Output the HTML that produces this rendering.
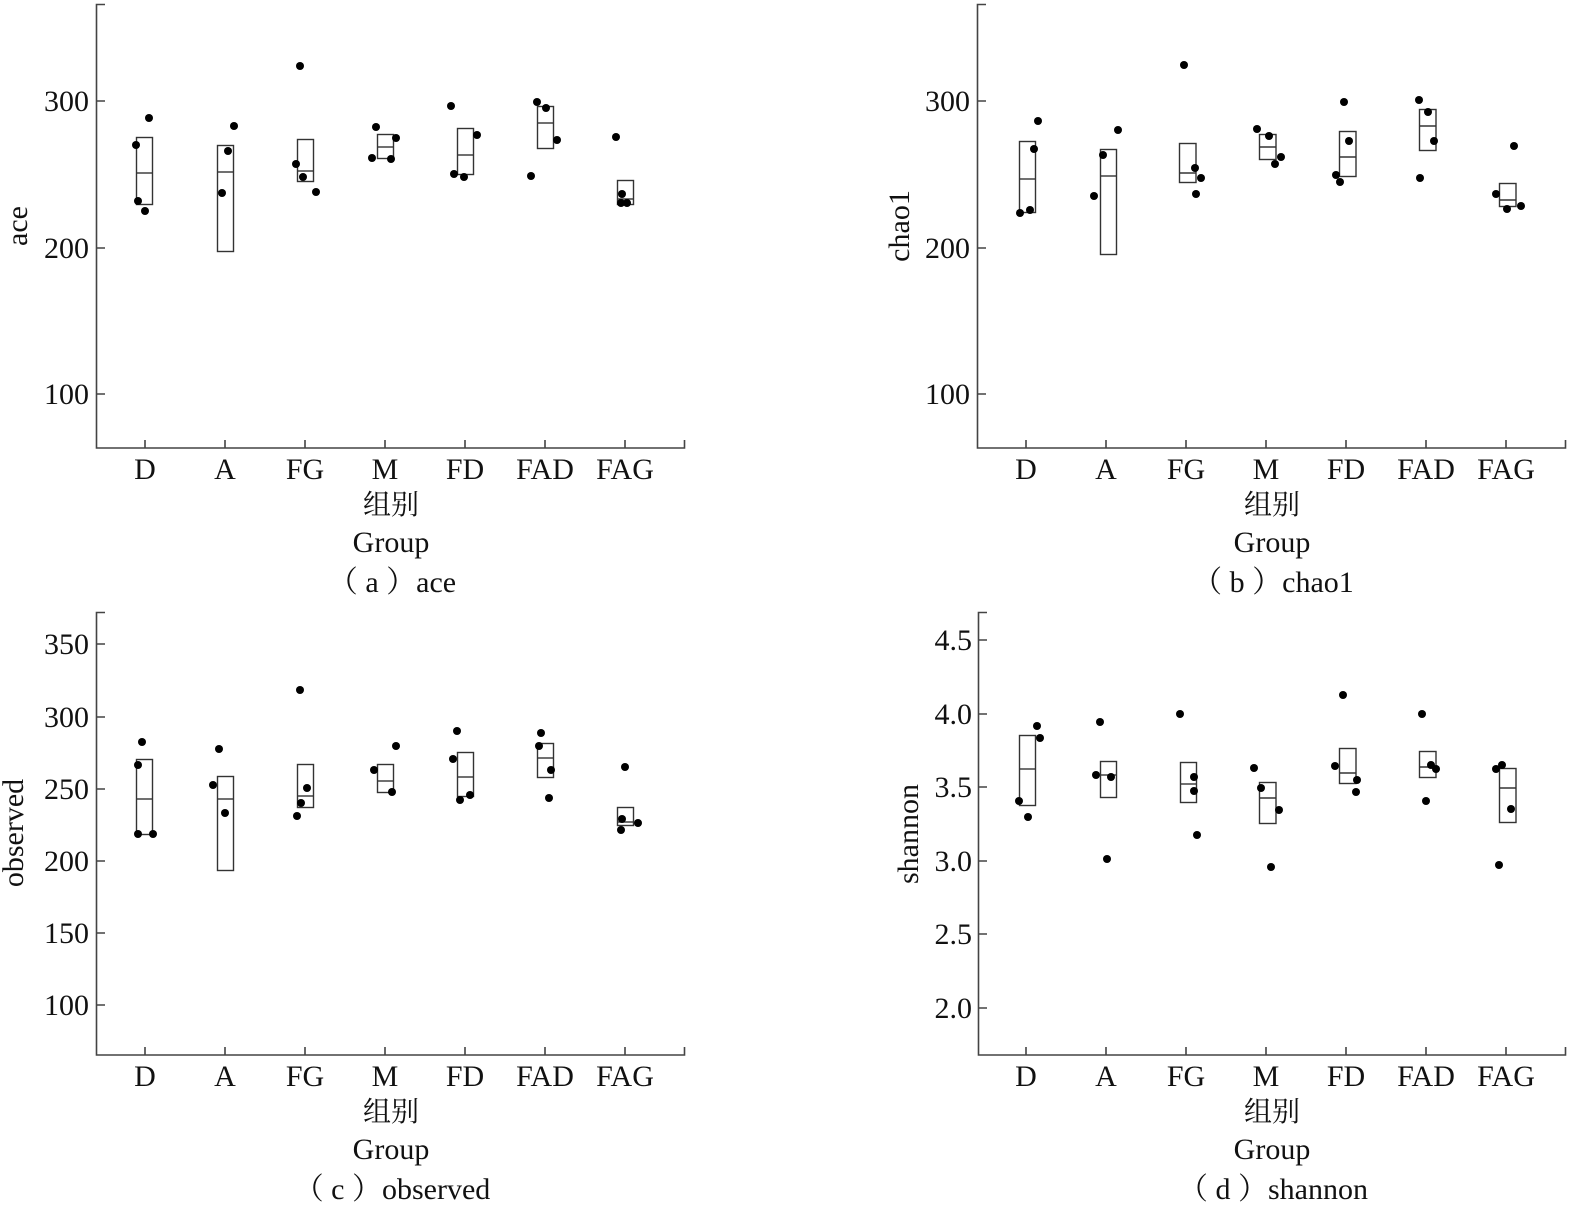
<!DOCTYPE html>
<html><head><meta charset="utf-8"><style>
html,body{margin:0;padding:0;background:#fff;}
svg{display:block;}
text{font-family:"Liberation Serif","Noto Serif CJK SC",serif;fill:#111;}
.t{font-size:30px;text-anchor:end;}
.c{font-size:30px;text-anchor:middle;}
.m{font-size:30px;text-anchor:middle;}
.k{font-size:28px;text-anchor:middle;}
.yl{font-size:30px;text-anchor:middle;}
.ax{stroke:#444;stroke-width:1.6;fill:none;}
.bx{stroke:#333;stroke-width:1.4;fill:none;}
</style></head><body>
<svg width="1571" height="1205" viewBox="0 0 1571 1205" xmlns="http://www.w3.org/2000/svg">
<!-- Panel a -->
<g>
<path class="ax" d="M105,4.5 H96.5 V448 H684.5 V440"/>
<path class="ax" d="M96.5,101 H105 M96.5,248 H105 M96.5,394 H105"/>
<path class="ax" d="M145,448 V440 M225,448 V440 M305,448 V440 M385,448 V440 M465,448 V440 M545,448 V440 M625,448 V440"/>
<text class="t" x="89" y="111">300</text>
<text class="t" x="89" y="258">200</text>
<text class="t" x="89" y="404">100</text>
<text class="yl" transform="translate(27,226) rotate(-90)">ace</text>
<text class="c" x="145" y="479">D</text><text class="c" x="225" y="479">A</text><text class="c" x="305" y="479">FG</text><text class="c" x="385" y="479">M</text><text class="c" x="465" y="479">FD</text><text class="c" x="545" y="479">FAD</text><text class="c" x="625" y="479">FAG</text>
<text class="k" x="391" y="514">组别</text>
<text class="m" x="391" y="552">Group</text>
<text class="m" x="392" y="592" xml:space="preserve">（ a ）ace</text>
<g class="bx">
<rect x="136.5" y="137.5" width="16" height="67"/><path d="M136.5,173 H152.5"/>
<rect x="217.5" y="145.5" width="16" height="106"/><path d="M217.5,172 H233.5"/>
<rect x="297.5" y="139.5" width="16" height="42"/><path d="M297.5,171 H313.5"/>
<rect x="377.5" y="134.5" width="16" height="24"/><path d="M377.5,147 H393.5"/>
<rect x="457.5" y="128.5" width="16" height="46"/><path d="M457.5,155 H473.5"/>
<rect x="537.5" y="106.5" width="16" height="42"/><path d="M537.5,123 H553.5"/>
<rect x="617.5" y="180.5" width="16" height="24"/><path d="M617.5,199 H633.5"/>
</g>
<g fill="#000">
<circle cx="136" cy="145" r="4"/><circle cx="149" cy="118" r="4"/><circle cx="138" cy="201" r="4"/><circle cx="145" cy="211" r="4"/>
<circle cx="234" cy="126" r="4"/><circle cx="228" cy="151" r="4"/><circle cx="222" cy="193" r="4"/>
<circle cx="300" cy="66" r="4"/><circle cx="296" cy="164" r="4"/><circle cx="303" cy="177" r="4"/><circle cx="316" cy="192" r="4"/>
<circle cx="376" cy="127" r="4"/><circle cx="396" cy="138" r="4"/><circle cx="372" cy="158" r="4"/><circle cx="391" cy="159" r="4"/>
<circle cx="451" cy="106" r="4"/><circle cx="477" cy="135" r="4"/><circle cx="454" cy="174" r="4"/><circle cx="464" cy="177" r="4"/>
<circle cx="537" cy="102" r="4"/><circle cx="546" cy="108" r="4"/><circle cx="557" cy="140" r="4"/><circle cx="531" cy="176" r="4"/>
<circle cx="616" cy="137" r="4"/><circle cx="622" cy="194" r="4"/><circle cx="621" cy="203" r="4"/><circle cx="627" cy="203" r="4"/>
</g>
</g>

<!-- Panel b -->
<g>
<path class="ax" d="M986,4.5 H977.5 V448 H1565.5 V440"/>
<path class="ax" d="M977.5,101 H986 M977.5,248 H986 M977.5,394 H986"/>
<path class="ax" d="M1026,448 V440 M1106,448 V440 M1186,448 V440 M1266,448 V440 M1346,448 V440 M1426,448 V440 M1506,448 V440"/>
<text class="t" x="970" y="111">300</text>
<text class="t" x="970" y="258">200</text>
<text class="t" x="970" y="404">100</text>
<text class="yl" transform="translate(909,226) rotate(-90)">chao1</text>
<text class="c" x="1026" y="479">D</text><text class="c" x="1106" y="479">A</text><text class="c" x="1186" y="479">FG</text><text class="c" x="1266" y="479">M</text><text class="c" x="1346" y="479">FD</text><text class="c" x="1426" y="479">FAD</text><text class="c" x="1506" y="479">FAG</text>
<text class="k" x="1272" y="514">组别</text>
<text class="m" x="1272" y="552">Group</text>
<text class="m" x="1273" y="592" xml:space="preserve">（ b ）chao1</text>
<g class="bx">
<rect x="1019.5" y="141.5" width="16" height="71"/><path d="M1019.5,179 H1035.5"/>
<rect x="1100.5" y="149.5" width="16" height="105"/><path d="M1100.5,176 H1116.5"/>
<rect x="1179.5" y="143.5" width="16.5" height="39"/><path d="M1179.5,173 H1196"/>
<rect x="1259.5" y="134.5" width="16.5" height="25"/><path d="M1259.5,147 H1276"/>
<rect x="1339.5" y="131.5" width="16.5" height="45"/><path d="M1339.5,157 H1356"/>
<rect x="1419.5" y="109.5" width="16.5" height="41"/><path d="M1419.5,126 H1436"/>
<rect x="1499.5" y="183.5" width="16.5" height="23"/><path d="M1499.5,200 H1516"/>
</g>
<g fill="#000">
<circle cx="1038" cy="121" r="4"/><circle cx="1034" cy="149" r="4"/><circle cx="1020" cy="213" r="4"/><circle cx="1030" cy="210" r="4"/>
<circle cx="1118" cy="130" r="4"/><circle cx="1103" cy="155" r="4"/><circle cx="1094" cy="196" r="4"/>
<circle cx="1184" cy="65" r="4"/><circle cx="1195" cy="168" r="4"/><circle cx="1201" cy="178" r="4"/><circle cx="1196" cy="194" r="4"/>
<circle cx="1257" cy="129" r="4"/><circle cx="1269" cy="136" r="4"/><circle cx="1281" cy="157" r="4"/><circle cx="1275" cy="164" r="4"/>
<circle cx="1344" cy="102" r="4"/><circle cx="1349" cy="141" r="4"/><circle cx="1336" cy="175" r="4"/><circle cx="1340" cy="182" r="4"/>
<circle cx="1419" cy="100" r="4"/><circle cx="1428" cy="112" r="4"/><circle cx="1434" cy="141" r="4"/><circle cx="1420" cy="178" r="4"/>
<circle cx="1514" cy="146" r="4"/><circle cx="1496" cy="194" r="4"/><circle cx="1507" cy="209" r="4"/><circle cx="1521" cy="206" r="4"/>
</g>
</g>

<!-- Panel c -->
<g>
<path class="ax" d="M105,612.5 H96.5 V1055 H684.5 V1047"/>
<path class="ax" d="M96.5,644 H105 M96.5,717 H105 M96.5,789 H105 M96.5,861 H105 M96.5,933 H105 M96.5,1005 H105"/>
<path class="ax" d="M145,1055 V1047 M225,1055 V1047 M305,1055 V1047 M385,1055 V1047 M465,1055 V1047 M545,1055 V1047 M625,1055 V1047"/>
<text class="t" x="89" y="654">350</text>
<text class="t" x="89" y="727">300</text>
<text class="t" x="89" y="799">250</text>
<text class="t" x="89" y="871">200</text>
<text class="t" x="89" y="943">150</text>
<text class="t" x="89" y="1015">100</text>
<text class="yl" transform="translate(23,833) rotate(-90)">observed</text>
<text class="c" x="145" y="1086">D</text><text class="c" x="225" y="1086">A</text><text class="c" x="305" y="1086">FG</text><text class="c" x="385" y="1086">M</text><text class="c" x="465" y="1086">FD</text><text class="c" x="545" y="1086">FAD</text><text class="c" x="625" y="1086">FAG</text>
<text class="k" x="391" y="1121">组别</text>
<text class="m" x="391" y="1159">Group</text>
<text class="m" x="392" y="1199" xml:space="preserve">（ c ）observed</text>
<g class="bx">
<rect x="136.5" y="759.5" width="16" height="75"/><path d="M136.5,799 H152.5"/>
<rect x="217.5" y="776.5" width="16" height="94"/><path d="M217.5,799 H233.5"/>
<rect x="297.5" y="764.5" width="16" height="43"/><path d="M297.5,796 H313.5"/>
<rect x="377.5" y="764.5" width="16" height="28"/><path d="M377.5,781 H393.5"/>
<rect x="457.5" y="752.5" width="16" height="44"/><path d="M457.5,777 H473.5"/>
<rect x="537.5" y="743.5" width="16" height="34"/><path d="M537.5,758 H553.5"/>
<rect x="617.5" y="807.5" width="16" height="18"/><path d="M617.5,822 H633.5"/>
</g>
<g fill="#000">
<circle cx="142" cy="742" r="4"/><circle cx="138" cy="765" r="4"/><circle cx="138" cy="834" r="4"/><circle cx="153" cy="834" r="4"/>
<circle cx="219" cy="749" r="4"/><circle cx="213" cy="785" r="4"/><circle cx="225" cy="813" r="4"/>
<circle cx="300" cy="690" r="4"/><circle cx="307" cy="788" r="4"/><circle cx="301" cy="803" r="4"/><circle cx="297" cy="816" r="4"/>
<circle cx="396" cy="746" r="4"/><circle cx="374" cy="770" r="4"/><circle cx="392" cy="792" r="4"/>
<circle cx="457" cy="731" r="4"/><circle cx="453" cy="759" r="4"/><circle cx="460" cy="800" r="4"/><circle cx="470" cy="795" r="4"/>
<circle cx="541" cy="733" r="4"/><circle cx="539" cy="746" r="4"/><circle cx="551" cy="770" r="4"/><circle cx="549" cy="798" r="4"/>
<circle cx="625" cy="767" r="4"/><circle cx="622" cy="819" r="4"/><circle cx="638" cy="823" r="4"/><circle cx="621" cy="830" r="4"/>
</g>
</g>

<!-- Panel d -->
<g>
<path class="ax" d="M987,612.5 H978.5 V1055 H1565.5 V1047"/>
<path class="ax" d="M978.5,640 H987 M978.5,714 H987 M978.5,787 H987 M978.5,861 H987 M978.5,934 H987 M978.5,1008 H987"/>
<path class="ax" d="M1026,1055 V1047 M1106,1055 V1047 M1186,1055 V1047 M1266,1055 V1047 M1346,1055 V1047 M1426,1055 V1047 M1506,1055 V1047"/>
<text class="t" x="972" y="650">4.5</text>
<text class="t" x="972" y="724">4.0</text>
<text class="t" x="972" y="797">3.5</text>
<text class="t" x="972" y="871">3.0</text>
<text class="t" x="972" y="944">2.5</text>
<text class="t" x="972" y="1018">2.0</text>
<text class="yl" transform="translate(918,834) rotate(-90)">shannon</text>
<text class="c" x="1026" y="1086">D</text><text class="c" x="1106" y="1086">A</text><text class="c" x="1186" y="1086">FG</text><text class="c" x="1266" y="1086">M</text><text class="c" x="1346" y="1086">FD</text><text class="c" x="1426" y="1086">FAD</text><text class="c" x="1506" y="1086">FAG</text>
<text class="k" x="1272" y="1121">组别</text>
<text class="m" x="1272" y="1159">Group</text>
<text class="m" x="1273" y="1199" xml:space="preserve">（ d ）shannon</text>
<g class="bx">
<rect x="1019.5" y="735.5" width="16" height="70"/><path d="M1019.5,769 H1035.5"/>
<rect x="1100.5" y="761.5" width="16" height="36"/><path d="M1100.5,775 H1116.5"/>
<rect x="1180.5" y="762.5" width="16" height="40"/><path d="M1180.5,784 H1196.5"/>
<rect x="1259.5" y="782.5" width="16.5" height="41"/><path d="M1259.5,798 H1276"/>
<rect x="1339.5" y="748.5" width="16.5" height="35"/><path d="M1339.5,773 H1356"/>
<rect x="1419.5" y="751.5" width="16.5" height="26"/><path d="M1419.5,767 H1436"/>
<rect x="1499.5" y="768.5" width="16.5" height="54"/><path d="M1499.5,788 H1516"/>
</g>
<g fill="#000">
<circle cx="1037" cy="726" r="4"/><circle cx="1040" cy="738" r="4"/><circle cx="1019" cy="801" r="4"/><circle cx="1028" cy="817" r="4"/>
<circle cx="1100" cy="722" r="4"/><circle cx="1096" cy="775" r="4"/><circle cx="1111" cy="777" r="4"/><circle cx="1107" cy="859" r="4"/>
<circle cx="1180" cy="714" r="4"/><circle cx="1194" cy="777" r="4"/><circle cx="1194" cy="791" r="4"/><circle cx="1197" cy="835" r="4"/>
<circle cx="1254" cy="768" r="4"/><circle cx="1261" cy="788" r="4"/><circle cx="1279" cy="810" r="4"/><circle cx="1271" cy="867" r="4"/>
<circle cx="1343" cy="695" r="4"/><circle cx="1335" cy="766" r="4"/><circle cx="1357" cy="780" r="4"/><circle cx="1356" cy="792" r="4"/>
<circle cx="1422" cy="714" r="4"/><circle cx="1431" cy="765" r="4"/><circle cx="1436" cy="769" r="4"/><circle cx="1426" cy="801" r="4"/>
<circle cx="1496" cy="769" r="4"/><circle cx="1502" cy="765" r="4"/><circle cx="1511" cy="809" r="4"/><circle cx="1499" cy="865" r="4"/>
</g>
</g>
</svg>
</body></html>
